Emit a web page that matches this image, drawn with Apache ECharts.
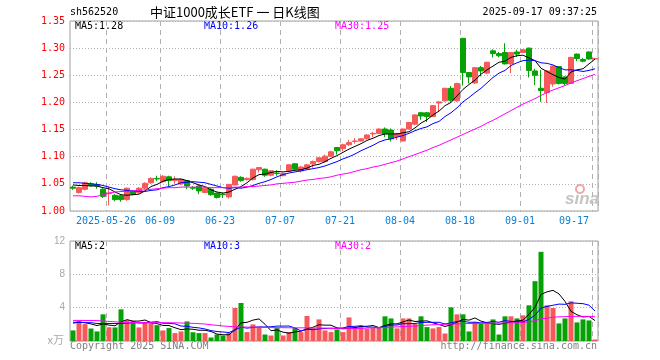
<!DOCTYPE html>
<html><head><meta charset="utf-8">
<script src="https://cdn.jsdelivr.net/npm/echarts@6/dist/echarts.min.js"></script>
<style>html,body{margin:0;padding:0;background:#fff}#c{width:660px;height:360px}</style>
</head><body><div id="c"></div><script>
var dates = ['2025-05-16','2025-05-19','2025-05-20','2025-05-21','2025-05-22','2025-05-23','2025-05-26','2025-05-27','2025-05-28','2025-05-29',
'2025-05-30','2025-06-03','2025-06-04','2025-06-05','2025-06-06','2025-06-09','2025-06-10','2025-06-11','2025-06-12','2025-06-13',
'2025-06-16','2025-06-17','2025-06-18','2025-06-19','2025-06-20','2025-06-23','2025-06-24','2025-06-25','2025-06-26','2025-06-27',
'2025-06-30','2025-07-01','2025-07-02','2025-07-03','2025-07-04','2025-07-07','2025-07-08','2025-07-09','2025-07-10','2025-07-11',
'2025-07-14','2025-07-15','2025-07-16','2025-07-17','2025-07-18','2025-07-21','2025-07-22','2025-07-23','2025-07-24','2025-07-25',
'2025-07-28','2025-07-29','2025-07-30','2025-07-31','2025-08-01','2025-08-04','2025-08-05','2025-08-06','2025-08-07','2025-08-08',
'2025-08-11','2025-08-12','2025-08-13','2025-08-14','2025-08-15','2025-08-18','2025-08-19','2025-08-20','2025-08-21','2025-08-22',
'2025-08-25','2025-08-26','2025-08-27','2025-08-28','2025-08-29','2025-09-01','2025-09-02','2025-09-03','2025-09-04','2025-09-05',
'2025-09-08','2025-09-09','2025-09-10','2025-09-11','2025-09-12','2025-09-15','2025-09-16','2025-09-17'];

var open = [1.044,1.034,1.040,1.050,1.049,1.040,1.032,1.029,1.028,1.021, 1.036,1.034,1.042,1.052,1.060,1.054,1.063,1.056,1.050,1.056,
1.043,1.046,1.034,1.040,1.033,1.031,1.026,1.048,1.062,1.058, 1.058,1.076,1.077,1.066,1.070,1.065,1.074,1.087,1.074,1.078,
1.087,1.091,1.091,1.101,1.117,1.115,1.122,1.128,1.129,1.133, 1.142,1.143,1.151,1.149,1.137,1.129,1.151,1.160,1.181,1.181,
1.174,1.199,1.203,1.226,1.203,1.318,1.255,1.236,1.264,1.254, 1.295,1.290,1.292,1.271,1.293,1.292,1.300,1.258,1.226,1.218,
1.234,1.266,1.247,1.235,1.289,1.279,1.293,1.280];
var close = [1.042,1.043,1.052,1.047,1.046,1.027,1.033,1.021,1.021,1.042, 1.031,1.042,1.051,1.060,1.059,1.064,1.056,1.058,1.058,1.046,
1.042,1.037,1.042,1.030,1.025,1.030,1.049,1.064,1.056,1.060, 1.077,1.080,1.066,1.074,1.069,1.069,1.085,1.077,1.081,1.085,
1.091,1.098,1.101,1.109,1.111,1.122,1.126,1.129,1.133,1.140, 1.143,1.151,1.142,1.133,1.142,1.151,1.163,1.177,1.175,1.174,
1.194,1.201,1.226,1.204,1.235,1.255,1.247,1.264,1.258,1.274, 1.290,1.286,1.271,1.292,1.289,1.297,1.259,1.250,1.222,1.258,
1.267,1.235,1.235,1.283,1.281,1.276,1.280,1.281];
var low = [1.039,1.032,1.038,1.045,1.041,1.024,1.011,1.018,1.017,1.019, 1.029,1.032,1.040,1.050,1.055,1.052,1.045,1.050,1.048,1.040,
1.039,1.031,1.033,1.028,1.023,1.024,1.023,1.047,1.054,1.056, 1.056,1.071,1.063,1.064,1.065,1.064,1.072,1.076,1.071,1.076,
1.080,1.089,1.089,1.100,1.104,1.110,1.120,1.124,1.128,1.132, 1.136,1.142,1.136,1.128,1.131,1.128,1.150,1.158,1.168,1.164,
1.173,1.183,1.201,1.201,1.201,1.231,1.235,1.234,1.248,1.252, 1.283,1.283,1.270,1.254,1.284,1.291,1.246,1.232,1.201,1.199,
1.229,1.233,1.232,1.234,1.276,1.274,1.279,1.279];
var high = [1.047,1.045,1.054,1.053,1.053,1.042,1.045,1.031,1.030,1.043, 1.038,1.044,1.053,1.062,1.065,1.066,1.065,1.064,1.060,1.057,
1.046,1.048,1.044,1.042,1.034,1.034,1.050,1.065,1.064,1.062, 1.078,1.081,1.078,1.075,1.075,1.071,1.086,1.088,1.083,1.087,
1.093,1.099,1.104,1.111,1.118,1.124,1.131,1.134,1.134,1.141, 1.146,1.152,1.154,1.152,1.144,1.152,1.164,1.178,1.182,1.182,
1.195,1.202,1.227,1.230,1.236,1.319,1.256,1.265,1.267,1.275, 1.298,1.293,1.309,1.293,1.297,1.298,1.301,1.262,1.260,1.259,
1.268,1.267,1.248,1.284,1.290,1.282,1.294,1.282];

var ma5 = [1.048,1.047,1.047,1.046,1.046,1.043,1.041,1.035,1.030,1.029, 1.030,1.031,1.037,1.045,1.049,1.055,1.058,1.059,1.059,1.056,
1.052,1.048,1.045,1.039,1.035,1.033,1.035,1.040,1.045,1.052, 1.061,1.067,1.068,1.071,1.073,1.072,1.073,1.075,1.076,1.079,
1.084,1.086,1.091,1.097,1.102,1.108,1.114,1.119,1.124,1.130, 1.134,1.139,1.142,1.142,1.142,1.144,1.146,1.153,1.162,1.168,
1.177,1.184,1.194,1.200,1.212,1.224,1.233,1.241,1.252,1.260, 1.267,1.274,1.276,1.283,1.286,1.287,1.282,1.277,1.263,1.257,
1.251,1.246,1.243,1.256,1.260,1.262,1.271,1.280];
var ma10 = [1.052,1.052,1.051,1.050,1.049,1.047,1.044,1.041,1.039,1.038, 1.037,1.036,1.036,1.038,1.039,1.043,1.045,1.048,1.052,1.053,
1.054,1.053,1.052,1.049,1.046,1.043,1.042,1.043,1.042,1.044, 1.047,1.051,1.054,1.058,1.063,1.067,1.070,1.072,1.074,1.076,
1.078,1.080,1.083,1.087,1.091,1.096,1.100,1.105,1.111,1.116, 1.121,1.127,1.131,1.133,1.136,1.139,1.143,1.148,1.152,1.155,
1.161,1.165,1.174,1.181,1.190,1.201,1.209,1.218,1.226,1.236, 1.246,1.254,1.259,1.268,1.273,1.277,1.278,1.277,1.273,1.272,
1.269,1.264,1.260,1.260,1.259,1.257,1.259,1.262];
var ma30 = [1.028,1.028,1.027,1.026,1.027,1.030,1.033,1.035,1.036,1.036, 1.037,1.038,1.039,1.040,1.041,1.042,1.043,1.043,1.044,1.044,
1.044,1.044,1.044,1.043,1.043,1.043,1.043,1.044,1.044,1.045, 1.045,1.046,1.047,1.048,1.050,1.051,1.052,1.053,1.055,1.057,
1.058,1.060,1.061,1.063,1.066,1.068,1.070,1.073,1.076,1.078, 1.081,1.083,1.086,1.089,1.092,1.096,1.100,1.104,1.108,1.112,
1.117,1.121,1.126,1.131,1.136,1.141,1.146,1.151,1.156,1.162, 1.167,1.173,1.179,1.185,1.191,1.197,1.202,1.207,1.213,1.218,
1.223,1.227,1.231,1.236,1.240,1.244,1.248,1.252];

var volume = [1.27,2.39,2.03,1.50,1.15,3.20,1.65,1.63,3.80,2.50, 2.39,1.63,2.27,2.27,1.90,1.27,1.55,0.95,1.15,2.35,
1.05,0.95,0.95,0.42,0.78,0.66,0.95,3.96,4.56,1.07, 1.99,1.67,0.78,0.66,1.55,0.66,1.07,1.55,1.07,3.00,
1.55,2.59,1.27,1.07,1.39,1.07,2.83,1.67,1.79,1.47, 1.55,1.55,2.96,2.71,1.51,2.71,2.71,2.07,2.96,1.67,
1.51,1.67,0.90,4.04,3.20,3.20,1.15,2.27,2.07,2.27, 2.59,0.78,2.96,2.96,2.71,3.08,4.28,7.18,10.7,4.28,
3.96,2.11,2.71,4.76,2.23,2.59,2.47,0.18];
var volMa5 = [2.15,2.25,2.20,2.05,1.85,2.05,1.91,1.83,2.29,2.56, 2.39,2.39,2.52,2.21,2.09,1.87,1.85,1.59,1.36,1.45,
1.41,1.29,1.29,1.14,0.83,0.75,0.75,1.35,2.18,2.24, 2.51,2.65,2.01,1.23,1.33,1.06,0.94,1.10,1.18,1.47,
1.65,1.95,1.90,1.90,1.57,1.48,1.53,1.61,1.75,1.77, 1.86,1.61,1.86,2.05,2.06,2.29,2.52,2.34,2.39,2.42,
2.18,1.98,1.74,1.96,2.26,2.60,2.50,2.77,2.38,2.19, 2.07,2.00,2.13,2.31,2.40,2.50,3.20,4.04,5.59,5.90,
6.08,5.65,4.75,3.56,3.15,2.88,2.95,2.45];
var volMa10 = [2.25,2.25,2.20,2.20,2.10,2.10,2.10,2.10,2.10,2.12, 2.22,2.15,2.18,2.25,2.33,2.13,2.12,2.06,1.79,1.77,
1.64,1.57,1.44,1.25,1.14,1.08,1.02,1.32,1.66,1.54, 1.63,1.70,1.68,1.71,1.79,1.79,1.80,1.56,1.21,1.40,
1.36,1.45,1.50,1.54,1.52,1.57,1.74,1.76,1.83,1.67, 1.67,1.57,1.74,1.90,1.92,2.08,2.07,2.10,2.22,2.24,
2.24,2.25,2.04,2.18,2.34,2.39,2.24,2.26,2.17,2.23, 2.34,2.25,2.45,2.35,2.30,2.29,2.60,3.09,3.95,4.15,
4.29,4.43,4.40,4.58,4.53,4.48,4.30,3.60];
var volMa30 = [2.47,2.47,2.46,2.46,2.45,2.40,2.35,2.30,2.25,2.22, 2.22,2.21,2.21,2.20,2.20,2.20,2.19,2.18,2.16,2.14,
2.12,2.08,2.04,1.95,1.88,1.80,1.75,1.70,1.68,1.67, 1.66,1.64,1.62,1.61,1.60,1.60,1.59,1.58,1.58,1.58,
1.57,1.56,1.55,1.50,1.48,1.47,1.48,1.50,1.52,1.55, 1.58,1.60,1.63,1.66,1.70,1.73,1.76,1.80,1.85,1.90,
1.95,1.98,2.00,2.03,2.06,2.08,2.10,2.10,2.12,2.13, 2.14,2.15,2.16,2.18,2.20,2.22,2.30,2.45,2.65,2.75,
2.85,2.90,2.92,2.95,2.96,2.96,2.95,2.93];

var tickDates = ['2025-05-26','2025-06-09','2025-06-23','2025-07-07','2025-07-21','2025-08-04','2025-08-18','2025-09-01','2025-09-17'];
var tickLabels = ['2025-05-26','06-09','06-23','07-07','07-21','08-04','08-18','09-01','09-17'];
var priceTicks = {min: 1.00, max: 1.35, step: 0.05};
var volTicks = {min: 0, max: 12, step: 4};

var RED = '#f65959', GREEN = '#06a106';
var MONO = '"DejaVu Sans Mono", "Liberation Mono", monospace';

var ohlc = dates.map(function (d, i) { return [open[i], close[i], low[i], high[i]]; });
var volData = volume.map(function (v, i) {
  return { value: v, itemStyle: { color: close[i] >= open[i] ? RED : GREEN } };
});
function isTick(i, v) { return tickDates.indexOf(dates[i]) >= 0; }
function tickText(v) { var k = tickDates.indexOf(v); return k >= 0 ? tickLabels[k] : ''; }

var dash = { color: '#b0b0b0', type: [5, 4], width: 1 };
var dots = { color: '#b4b4b4', type: [1, 2], width: 1 };

var chart = echarts.init(document.getElementById('c'));
chart.setOption({
  animation: false,
  backgroundColor: '#fff',
  grid: [
    { left: 70, top: 21, width: 528, height: 190, show: true, borderColor: '#a0a0a0', borderWidth: 1, backgroundColor: 'transparent' },
    { left: 70, top: 241, width: 528, height: 100, show: true, borderColor: '#a0a0a0', borderWidth: 1, backgroundColor: 'transparent' }
  ],
  xAxis: [
    { type: 'category', gridIndex: 0, data: dates, boundaryGap: true,
      axisLine: { show: false }, axisTick: { show: false },
      axisLabel: { interval: isTick, formatter: tickText, color: '#0a7fd6', fontFamily: MONO, fontSize: 10, margin: 5, padding: [0, 6, 0, 0], alignMaxLabel: 'right' },
      splitLine: { show: true, interval: isTick, lineStyle: dash } },
    { type: 'category', gridIndex: 1, data: dates, boundaryGap: true,
      axisLine: { show: false }, axisTick: { show: false }, axisLabel: { show: false },
      splitLine: { show: true, interval: isTick, lineStyle: dash } }
  ],
  yAxis: [
    { type: 'value', gridIndex: 0, min: priceTicks.min, max: priceTicks.max, interval: priceTicks.step, scale: true,
      axisLine: { show: false }, axisTick: { show: false },
      axisLabel: { formatter: function (v) { return v.toFixed(2); }, color: '#ff0000', fontFamily: MONO, fontSize: 10, margin: 5 },
      splitLine: { show: true, lineStyle: dots } },
    { type: 'value', gridIndex: 1, min: volTicks.min, max: volTicks.max, interval: volTicks.step,
      axisLine: { show: false }, axisTick: { show: false },
      axisLabel: { formatter: function (v) { return v === 0 ? '' : String(v); }, color: '#a8a8a8', fontFamily: '"Liberation Sans", Arial, sans-serif', fontSize: 10, margin: 5 },
      splitLine: { show: true, lineStyle: dots } }
  ],
  series: [
    { type: 'candlestick', xAxisIndex: 0, yAxisIndex: 0, data: ohlc, barWidth: 5,
      itemStyle: { color: RED, color0: GREEN, borderColor: RED, borderColor0: GREEN, borderWidth: 1 } },
    { type: 'line', xAxisIndex: 0, yAxisIndex: 0, data: ma5, symbol: 'none', lineStyle: { color: '#000', width: 1 }, z: 5 },
    { type: 'line', xAxisIndex: 0, yAxisIndex: 0, data: ma10, symbol: 'none', lineStyle: { color: '#0000ff', width: 1 }, z: 5 },
    { type: 'line', xAxisIndex: 0, yAxisIndex: 0, data: ma30, symbol: 'none', lineStyle: { color: '#ff00ff', width: 1 }, z: 5 },
    { type: 'bar', xAxisIndex: 1, yAxisIndex: 1, data: volData, barWidth: 5 },
    { type: 'line', xAxisIndex: 1, yAxisIndex: 1, data: volMa5, symbol: 'none', lineStyle: { color: '#000', width: 1 }, z: 5 },
    { type: 'line', xAxisIndex: 1, yAxisIndex: 1, data: volMa10, symbol: 'none', lineStyle: { color: '#0000ff', width: 1 }, z: 5 },
    { type: 'line', xAxisIndex: 1, yAxisIndex: 1, data: volMa30, symbol: 'none', lineStyle: { color: '#ff00ff', width: 1 }, z: 5 }
  ],
  graphic: [
    { type: 'text', x: 70, y: 12.5, style: { text: 'sh562520', fill: '#000', font: '10px ' + MONO, textVerticalAlign: 'middle' } },
    { type: 'text', x: 150, y: 12.5, style: { text: '中证1000成长ETF 一 日K线图', fill: '#000', font: '13px "Noto Sans CJK SC", sans-serif', textVerticalAlign: 'middle' } },
    { type: 'text', x: 597, y: 12.5, style: { text: '2025-09-17 09:37:25', fill: '#000', font: '10px ' + MONO, textAlign: 'right', textVerticalAlign: 'middle' } },
    { type: 'text', x: 75, y: 26, style: { text: 'MA5:' + ma5[ma5.length - 1].toFixed(2), fill: '#000', font: '10px ' + MONO, textVerticalAlign: 'middle' } },
    { type: 'text', x: 204, y: 26, style: { text: 'MA10:' + ma10[ma10.length - 1].toFixed(2), fill: '#0000ff', font: '10px ' + MONO, textVerticalAlign: 'middle' } },
    { type: 'text', x: 335, y: 26, style: { text: 'MA30:' + ma30[ma30.length - 1].toFixed(2), fill: '#ff00ff', font: '10px ' + MONO, textVerticalAlign: 'middle' } },
    { type: 'text', x: 75, y: 246.5, style: { text: 'MA5:' + Math.floor(volMa5[volMa5.length - 1]), fill: '#000', font: '10px ' + MONO, textVerticalAlign: 'middle' } },
    { type: 'text', x: 204, y: 246.5, style: { text: 'MA10:' + Math.floor(volMa10[volMa10.length - 1]), fill: '#0000ff', font: '10px ' + MONO, textVerticalAlign: 'middle' } },
    { type: 'text', x: 335, y: 246.5, style: { text: 'MA30:' + Math.floor(volMa30[volMa30.length - 1]), fill: '#ff00ff', font: '10px ' + MONO, textVerticalAlign: 'middle' } },
    { type: 'text', x: 64, y: 339.5, style: { text: 'x万', fill: '#a8a8a8', font: '11px "Noto Sans CJK SC", sans-serif', textAlign: 'right', textVerticalAlign: 'middle' } },
    { type: 'text', x: 70, y: 346.5, style: { text: 'Copyright 2025 SINA.COM', fill: '#808080', font: '10px ' + MONO, textVerticalAlign: 'middle' } },
    { type: 'text', x: 597, y: 346.5, style: { text: 'http://finance.sina.com.cn', fill: '#808080', font: '10px ' + MONO, textAlign: 'right', textVerticalAlign: 'middle' } },
    { type: 'circle', shape: { cx: 580, cy: 189, r: 4 }, style: { fill: 'none', stroke: '#f2a3a3', lineWidth: 2 }, z: 10 },
    { type: 'text', x: 565, y: 199, style: { text: 'sina', fill: '#c4c4c4', font: 'italic bold 17px "Liberation Sans", Arial, sans-serif', textVerticalAlign: 'middle' }, z: 10 }
  ]
});
</script></body></html>
